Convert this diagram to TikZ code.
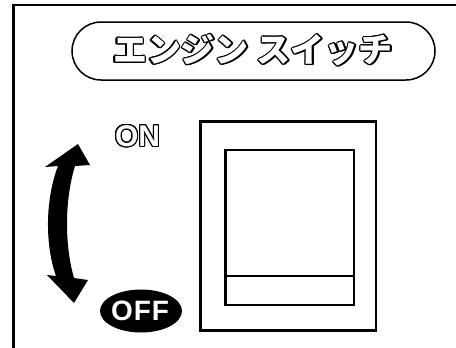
\documentclass[tikz,border=0pt]{standalone}
\usepackage{fontspec}
\setmainfont{Liberation Sans}
\newfontfamily\jpfont{Noto Sans CJK JP}
\usepackage{contour}
\contourlength{1.1pt}
\usetikzlibrary{shapes.geometric}
\tikzset{
  frameline/.style={line width=2.7pt, line cap=rect},
  boxline/.style={line width=2.6pt},
  pill/.style={draw, line width=1.5pt, rounded corners=29pt},
}
\begin{document}
\begin{tikzpicture}[x=1pt,y=-1pt]
\useasboundingbox (0,0) rectangle (456,348);
\fill[white] (0,0) rectangle (456,348);
% outer frame (open at right and bottom)
\coordinate (fb) at (13.5,348);
\coordinate (fr) at (456,5);
\draw[frameline] (fb) |- (fr);
% title
\draw[pill] (72,22) rectangle (435,80);
\node (title) at (253,51) {\jpfont\bfseries\fontsize{34}{34}\selectfont\textcolor{white}{\contour{black}{エンジン\hspace{8pt}スイッチ}}};
% switch
\draw[boxline] (200.7,121.7) rectangle (376,330.7);
\draw[boxline] (225.7,150) rectangle (354,305);
\coordinate (hl) at (225.7,275.7);
\coordinate (hr) at (354,275.7);
\draw[line width=2.4pt] (hl) -- (hr);
% ON label
\node (on) at (137.5,136.5) {\bfseries\fontsize{30}{30}\selectfont\textcolor{white}{\contour{black}{ON}}};
% OFF label
\node[ellipse, fill=black, minimum width=82pt, minimum height=43pt, inner sep=0pt] (offe) at (141,311) {};
\node[text=white] (off) at (140,311) {\bfseries\fontsize{28}{28}\selectfont O\hspace{1pt}F\hspace{1pt}F};
% double curved arrow
\fill[black] (78,144) -- (90,165) -- (75,166)
  .. controls (64.5,200) and (64.5,245) .. (74,278)
  -- (88,280) -- (74,303) -- (47,275) -- (56,276)
  .. controls (45,245) and (45,200) .. (58,166)
  -- (45,167) -- cycle;
\end{tikzpicture}
\end{document}
